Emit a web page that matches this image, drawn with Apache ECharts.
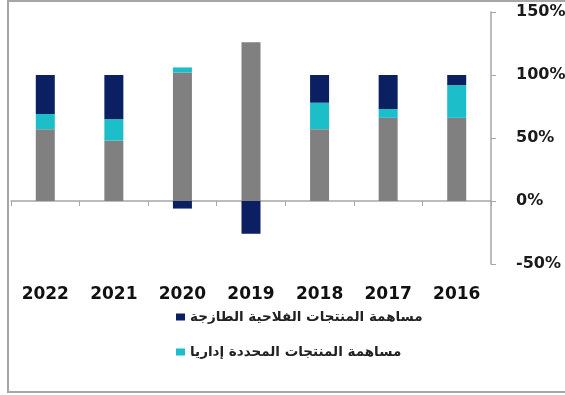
<!DOCTYPE html>
<html>
<head>
<meta charset="utf-8">
<script src="https://cdn.jsdelivr.net/npm/echarts@6/dist/echarts.min.js"></script>
<style>
  html, body { margin: 0; padding: 0; background: #fff; }
  #chart { width: 565px; height: 395px; }
</style>
</head>
<body>
<div id="chart"></div>
<script>
// data
const years = ["2022", "2021", "2020", "2019", "2018", "2017", "2016"];
const otherShare = [57, 48, 102, 126, 57, 66, 66];
const adminShare = [12, 17, 4, 0, 21, 7, 26];
const freshShare = [31, 35, -6, -26, 22, 27, 8];

const yTicks = [-50, 0, 50, 100, 150];

const freshName = "مساهمة المنتجات الفلاحية الطازجة";
const adminName = "مساهمة المنتجات المحددة إداريا";
const otherName = "مساهمة المنتجات الأخرى";

const chart = echarts.init(document.getElementById("chart"));

const option = {
  animation: false,
  backgroundColor: "#fff",
  graphic: [
    {
      type: "rect",
      shape: { x: 8, y: 1, width: 600, height: 391 },
      style: { fill: "none", stroke: "#a6a6a6", lineWidth: 2 },
      silent: true,
    },
  ],
  grid: {
    left: 11,
    right: 74,
    top: 12,
    bottom: 131,
    outerBoundsMode: "none",
  },
  legend: {
    orient: "vertical",
    left: 176,
    top: 310,
    padding: 0,
    icon: "rect",
    itemWidth: 9,
    itemHeight: 7,
    itemGap: 21,
    data: [freshName, adminName],
    textStyle: {
      fontFamily: "DejaVu Sans",
      fontWeight: "bold",
      fontSize: 13.5,
      color: "#222",
    },
  },
  xAxis: [
    {
      type: "category",
      data: years,
      position: "bottom",
      axisLine: { onZero: true, lineStyle: { color: "#a6a6a6", width: 1.5 } },
      axisTick: { show: true, length: 5, lineStyle: { color: "#a6a6a6" } },
      axisLabel: { show: false },
    },
    {
      type: "category",
      data: years,
      position: "bottom",
      axisLine: { show: false, onZero: false },
      axisTick: { show: false },
      axisLabel: {
        margin: 22,
        fontFamily: "DejaVu Sans",
        fontWeight: "bold",
        fontSize: 17,
        color: "#111",
      },
    },
  ],
  yAxis: {
    type: "value",
    position: "right",
    min: yTicks[0],
    max: yTicks[yTicks.length - 1],
    interval: 50,
    splitLine: { show: false },
    axisLine: { show: true, lineStyle: { color: "#a6a6a6", width: 1.5 } },
    axisTick: { show: true, length: 5, lineStyle: { color: "#a6a6a6" } },
    axisLabel: {
      margin: 25,
      formatter: "{value}%",
      fontFamily: "DejaVu Sans",
      fontWeight: "bold",
      fontSize: 16,
      color: "#1a1a1a",
    },
  },
  series: [
    {
      name: otherName,
      type: "bar",
      stack: "total",
      barWidth: 19,
      itemStyle: { color: "#808080" },
      data: otherShare,
    },
    {
      name: adminName,
      type: "bar",
      stack: "total",
      barWidth: 19,
      itemStyle: { color: "#1cbfc9" },
      data: adminShare,
    },
    {
      name: freshName,
      type: "bar",
      stack: "total",
      barWidth: 19,
      itemStyle: { color: "#0b1f63" },
      data: freshShare,
    },
  ],
};

chart.setOption(option);
</script>
</body>
</html>
